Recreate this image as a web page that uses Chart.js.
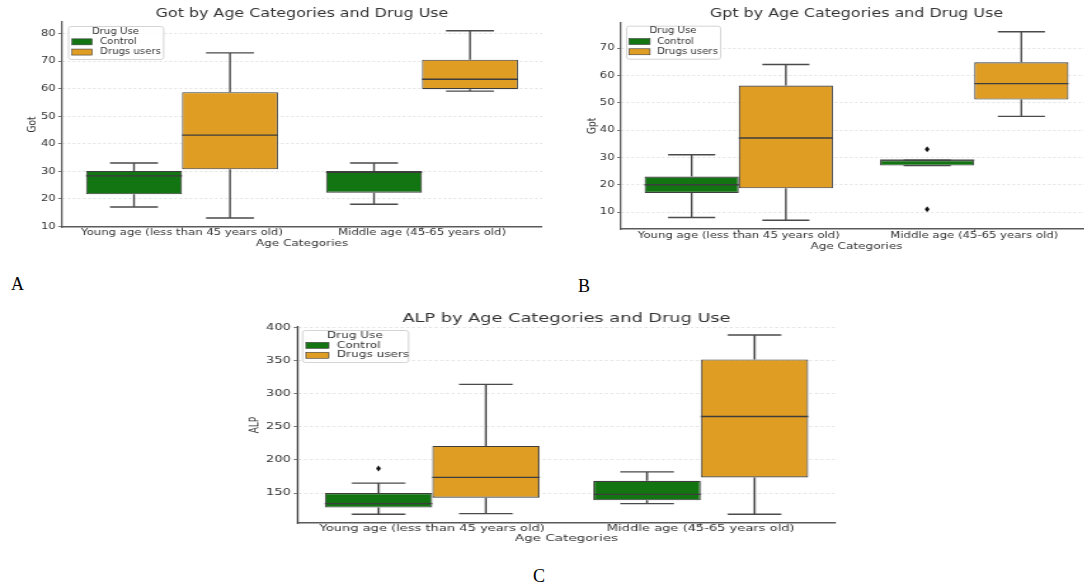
<!DOCTYPE html>
<html>
<head>
<meta charset="utf-8">
<script src="https://cdn.jsdelivr.net/npm/chart.js@4.4.0/dist/chart.umd.min.js"></script>
<style>
html, body { margin: 0; padding: 0; background: #fff; width: 1084px; height: 586px; overflow: hidden; }
.wrap { position: absolute; }
.letter { position: absolute; font-family: "Liberation Serif", serif; font-size: 18px; color: #000; line-height: 1; }
</style>
</head>
<body>
<div class="wrap" style="left:0;top:0;"><canvas id="chartA"></canvas></div>
<div class="wrap" style="left:560px;top:0;"><canvas id="chartB"></canvas></div>
<div class="wrap" style="left:240px;top:300px;"><canvas id="chartC"></canvas></div>
<div class="letter" style="left:11px;top:275px;">A</div>
<div class="letter" style="left:578px;top:277px;">B</div>
<div class="letter" style="left:533px;top:567px;">C</div>
<script>
const categories = ['Young age (less than 45 years old)', 'Middle age (45-65 years old)'];
const groups = ['Control', 'Drugs users'];

// box summaries per category: [min whisker, q1, median, q3, max whisker]
const gotControl = [[17, 21.6, 28.3, 30.1, 33], [18, 22.2, 29.6, 30.1, 33]];
const gotDrugs = [[13, 30.7, 43.1, 58.7, 73], [59.1, 59.8, 63.4, 70.5, 81]];
const gptControl = [[8, 17, 20, 23, 31], [27, 27, 29, 29, 29]];
const gptDrugs = [[7, 18.7, 37.1, 56.3, 64], [45, 51.2, 57, 64.8, 76]];
const alpControl = [[118, 128, 134, 150, 165], [134, 139, 148, 168.5, 182]];
const alpDrugs = [[119, 143, 173.5, 221, 314], [118, 173.5, 265.5, 351.5, 388.5]];

// outliers per category
const noOutliers = [[], []];
const gptControlOutliers = [[], [33, 11]];
const alpControlOutliers = [[187], []];

const gotTicks = [10, 20, 30, 40, 50, 60, 70, 80];
const gptTicks = [10, 20, 30, 40, 50, 60, 70];
const alpTicks = [150, 200, 250, 300, 350, 400];

const green = '#127512';
const orange = '#e09d24';
const edge = '#3d3d3d';
const font = 'DejaVu Sans';

const boxPlugin = {
  id: 'boxes',
  afterDatasetsDraw(chart) {
    const ctx = chart.ctx;
    const y = chart.scales.y;
    const sx = chart.options.plugins.boxes.sx;
    chart.data.datasets.forEach((ds, di) => {
      const meta = chart.getDatasetMeta(di);
      meta.data.forEach((bar, i) => {
        const s = ds.stats[i];
        const p = bar.getProps(['x', 'width'], true);
        const x = p.x, w = p.width;
        ctx.save();
        ctx.strokeStyle = '#4a4a4a';
        ctx.lineWidth = 1.4;
        ctx.beginPath();
        ctx.moveTo(x, y.getPixelForValue(s[3]));
        ctx.lineTo(x, y.getPixelForValue(s[4]));
        ctx.moveTo(x, y.getPixelForValue(s[1]));
        ctx.lineTo(x, y.getPixelForValue(s[0]));
        ctx.moveTo(x - w / 4, y.getPixelForValue(s[4]));
        ctx.lineTo(x + w / 4, y.getPixelForValue(s[4]));
        ctx.moveTo(x - w / 4, y.getPixelForValue(s[0]));
        ctx.lineTo(x + w / 4, y.getPixelForValue(s[0]));
        ctx.stroke();
        ctx.strokeStyle = edge;
        ctx.lineWidth = 1.3;
        ctx.beginPath();
        ctx.moveTo(x - w / 2, y.getPixelForValue(s[2]));
        ctx.lineTo(x + w / 2, y.getPixelForValue(s[2]));
        ctx.stroke();
        ctx.fillStyle = '#111';
        ds.outliers[i].forEach(v => {
          const py = y.getPixelForValue(v);
          ctx.beginPath();
          ctx.moveTo(x, py - 3);
          ctx.lineTo(x + 2.4 / sx, py);
          ctx.lineTo(x, py + 3);
          ctx.lineTo(x - 2.4 / sx, py);
          ctx.closePath();
          ctx.fill();
        });
        ctx.restore();
      });
    });
  },
  afterDraw(chart) {
    const L = chart.options.plugins.boxes;
    const sx = L.sx;
    const a = chart.chartArea;
    const ctx = chart.ctx;
    ctx.save();
    // title centred over the plot area, as matplotlib does
    ctx.fillStyle = '#333';
    ctx.font = '12.5px "' + font + '"';
    ctx.textAlign = 'center';
    ctx.textBaseline = 'middle';
    ctx.fillText(L.title, (a.left + a.right) / 2, L.ty);
    // legend
    const x = a.left + L.dx / sx, y = a.top + L.dy, w = L.w / sx;
    ctx.fillStyle = 'rgba(255,255,255,0.85)';
    ctx.strokeStyle = '#d4d4d4';
    ctx.lineWidth = 1;
    ctx.beginPath();
    ctx.roundRect(x + 0.5, y + 0.5, w, L.h, 2);
    ctx.fill();
    ctx.stroke();
    ctx.fillStyle = '#333';
    ctx.font = L.size + 'px "' + font + '"';
    ctx.fillText('Drug Use', x + w / 2, y + L.h * 0.17);
    ctx.textAlign = 'left';
    chart.data.datasets.forEach((ds, i) => {
      const ry = y + L.h * (0.48 + 0.31 * i);
      ctx.fillStyle = ds.backgroundColor;
      ctx.fillRect(x + L.px / sx, ry - 3, L.pw / sx, 6);
      ctx.strokeStyle = edge;
      ctx.lineWidth = 0.6;
      ctx.strokeRect(x + L.px / sx, ry - 3, L.pw / sx, 6);
      ctx.fillStyle = '#333';
      ctx.fillText(ds.label, x + L.tx / sx, ry);
    });
    ctx.restore();
  }
};

// the reference figure is stretched sideways, so each canvas is drawn narrower and widened by css
function boxChart(id, title, yLabel, control, drugs, controlOut, ticks, yMin, yMax, lay) {
  const sx = lay.sx;
  const canvas = document.getElementById(id);
  canvas.width = Math.round(lay.cw / sx);
  canvas.height = lay.ch;
  canvas.style.width = lay.cw + 'px';
  canvas.style.height = lay.ch + 'px';
  lay.legend.sx = sx;
  lay.legend.title = title;
  lay.legend.ty = lay.ty;
  return new Chart(canvas, {
    type: 'bar',
    plugins: [boxPlugin],
    data: {
      labels: categories,
      datasets: [
        { label: groups[0], data: control.map(s => [s[1], s[3]]), stats: control, outliers: controlOut,
          backgroundColor: green, borderColor: edge, borderWidth: 1.1, borderSkipped: false },
        { label: groups[1], data: drugs.map(s => [s[1], s[3]]), stats: drugs, outliers: noOutliers,
          backgroundColor: orange, borderColor: edge, borderWidth: 1.1, borderSkipped: false }
      ]
    },
    options: {
      responsive: false,
      animation: false,
      categoryPercentage: 0.8,
      barPercentage: 1.0,
      layout: { padding: { left: lay.pl / sx, right: lay.pr / sx, top: lay.pt, bottom: lay.pb } },
      plugins: {
        legend: { display: false },
        tooltip: { enabled: false },
        title: { display: false },
        boxes: lay.legend
      },
      scales: {
        x: {
          grid: { display: true, drawOnChartArea: false, offset: false, tickLength: 3, tickColor: '#555' },
          border: { display: true, color: '#5a5a5a', width: 1.5 },
          ticks: { color: '#333', padding: lay.xp, maxRotation: 0, font: { family: font, size: 9.2 } },
          title: { display: true, text: 'Age Categories', color: '#333', padding: 0,
            font: { family: font, size: 9.5 } },
          afterFit(s) { s.height = lay.xh; }
        },
        y: {
          min: yMin, max: yMax,
          afterBuildTicks(s) { s.ticks = ticks.map(v => ({ value: v })); },
          grid: { color: '#dcdcdc', lineWidth: 0.8, tickLength: 3, tickColor: '#555' },
          border: { display: true, color: '#5a5a5a', width: 1.3, dash: [2, 2] },
          ticks: { color: '#333', padding: 2, font: { family: font, size: 9.2 } },
          title: { display: true, text: yLabel, color: '#333', padding: 0,
            font: { family: font, size: 9 } },
          afterFit(s) { s.width = lay.yw / sx; }
        }
      }
    }
  });
}

boxChart('chartA', 'Got by Age Categories and Drug Use', 'Got', gotControl, gotDrugs, noOutliers,
  gotTicks, 9.75, 84.2,
  { sx: 1.27, cw: 560, ch: 262, pl: 26, pr: 18, pt: 22, pb: 12.3, ty: 14, xh: 22.7, xp: -2.5, yw: 36,
    legend: { dx: 6, dy: 4, w: 95, h: 33, size: 8, px: 4, pw: 20, tx: 32 } });

boxChart('chartB', 'Gpt by Age Categories and Drug Use', 'Gpt', gptControl, gptDrugs, gptControlOutliers,
  gptTicks, 3.8, 79.3,
  { sx: 1.27, cw: 560, ch: 262, pl: 26, pr: 28, pt: 22.7, pb: 9.3, ty: 14, xh: 23.7, xp: -2, yw: 35,
    legend: { dx: 5, dy: 3, w: 94, h: 33, size: 8, px: 3, pw: 21, tx: 31 } });

boxChart('chartC', 'ALP by Age Categories and Drug Use', 'ALP', alpControl, alpDrugs, alpControlOutliers,
  alpTicks, 104.8, 400.5,
  { sx: 1.42, cw: 620, ch: 262, pl: 7, pr: 25, pt: 27, pb: 17.3, ty: 19, xh: 21.7, xp: -2.5, yw: 51,
    legend: { dx: 4, dy: 3, w: 106, h: 32, size: 8.5, px: 4, pw: 23, tx: 35 } });
</script>
</body>
</html>
